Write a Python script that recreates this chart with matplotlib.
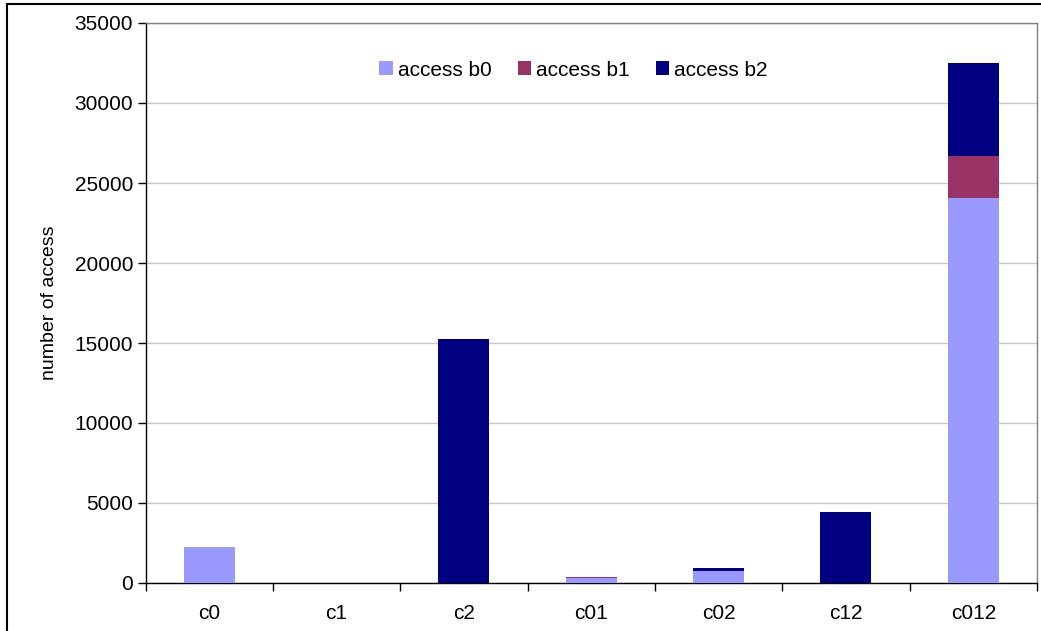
import numpy as np
import matplotlib
matplotlib.use('Agg')
import matplotlib.pyplot as plt
from matplotlib.patches import Rectangle

plt.rcParams['font.family'] = ['Liberation Sans', 'DejaVu Sans']

# access counts per configuration, split by bank
categories = ['c0', 'c1', 'c2', 'c01', 'c02', 'c12', 'c012']
access_b0 = [2250, 0, 0, 340, 770, 0, 24080]
access_b1 = [0, 0, 0, 60, 0, 0, 2610]
access_b2 = [0, 0, 15250, 0, 170, 4450, 5810]

colors = ['#9999FF', '#993366', '#000080']

fig = plt.figure(figsize=(10.41, 6.31), dpi=100)
ax = fig.add_axes([145.5 / 1041, 1 - 583 / 631, 891.5 / 1041, 560 / 631])

x = np.arange(len(categories))
b0 = np.array(access_b0)
b1 = np.array(access_b1)
b2 = np.array(access_b2)
ax.bar(x, b0, width=0.4, color=colors[0], label='access b0', zorder=3)
ax.bar(x, b1, width=0.4, bottom=b0, color=colors[1], label='access b1', zorder=3)
ax.bar(x, b2, width=0.4, bottom=b0 + b1, color=colors[2], label='access b2', zorder=3)

ax.set_xlim(-0.5, len(categories) - 0.5)
ax.set_ylim(0, 35000)
ax.set_yticks(range(0, 35001, 5000))
ax.yaxis.grid(True, color='#c8c8c8', linewidth=1)
ax.set_axisbelow(True)

# category labels centred, ticks drawn between categories
ax.set_xticks(x)
ax.set_xticklabels(categories)
ax.set_xticks(np.arange(-0.5, len(categories)), minor=True)
ax.tick_params(axis='x', which='major', length=0, pad=15, labelsize=15)
ax.tick_params(axis='x', which='minor', length=6, width=1, direction='out')
ax.tick_params(axis='y', length=6, width=1, direction='out', pad=3, labelsize=15)

for side in ['left', 'bottom']:
    ax.spines[side].set_color('black')
for side in ['top', 'right']:
    ax.spines[side].set_color('#808080')
for s in ax.spines.values():
    s.set_linewidth(1)

ax.set_ylabel('number of access', fontsize=14, labelpad=12)

ax.legend(loc='center', bbox_to_anchor=(0.48, 0.916), ncol=3, frameon=False,
          fontsize=15, handlelength=0.63, handleheight=0.63,
          handletextpad=0.25, columnspacing=1.25)

# outer chart border
fig.patches.append(Rectangle((7 / 1041, -0.1), 1.2, 1 - 4 / 631 + 0.1,
                             transform=fig.transFigure, fill=False,
                             edgecolor='black', linewidth=1.5))

fig.savefig('out.png', dpi=100)
